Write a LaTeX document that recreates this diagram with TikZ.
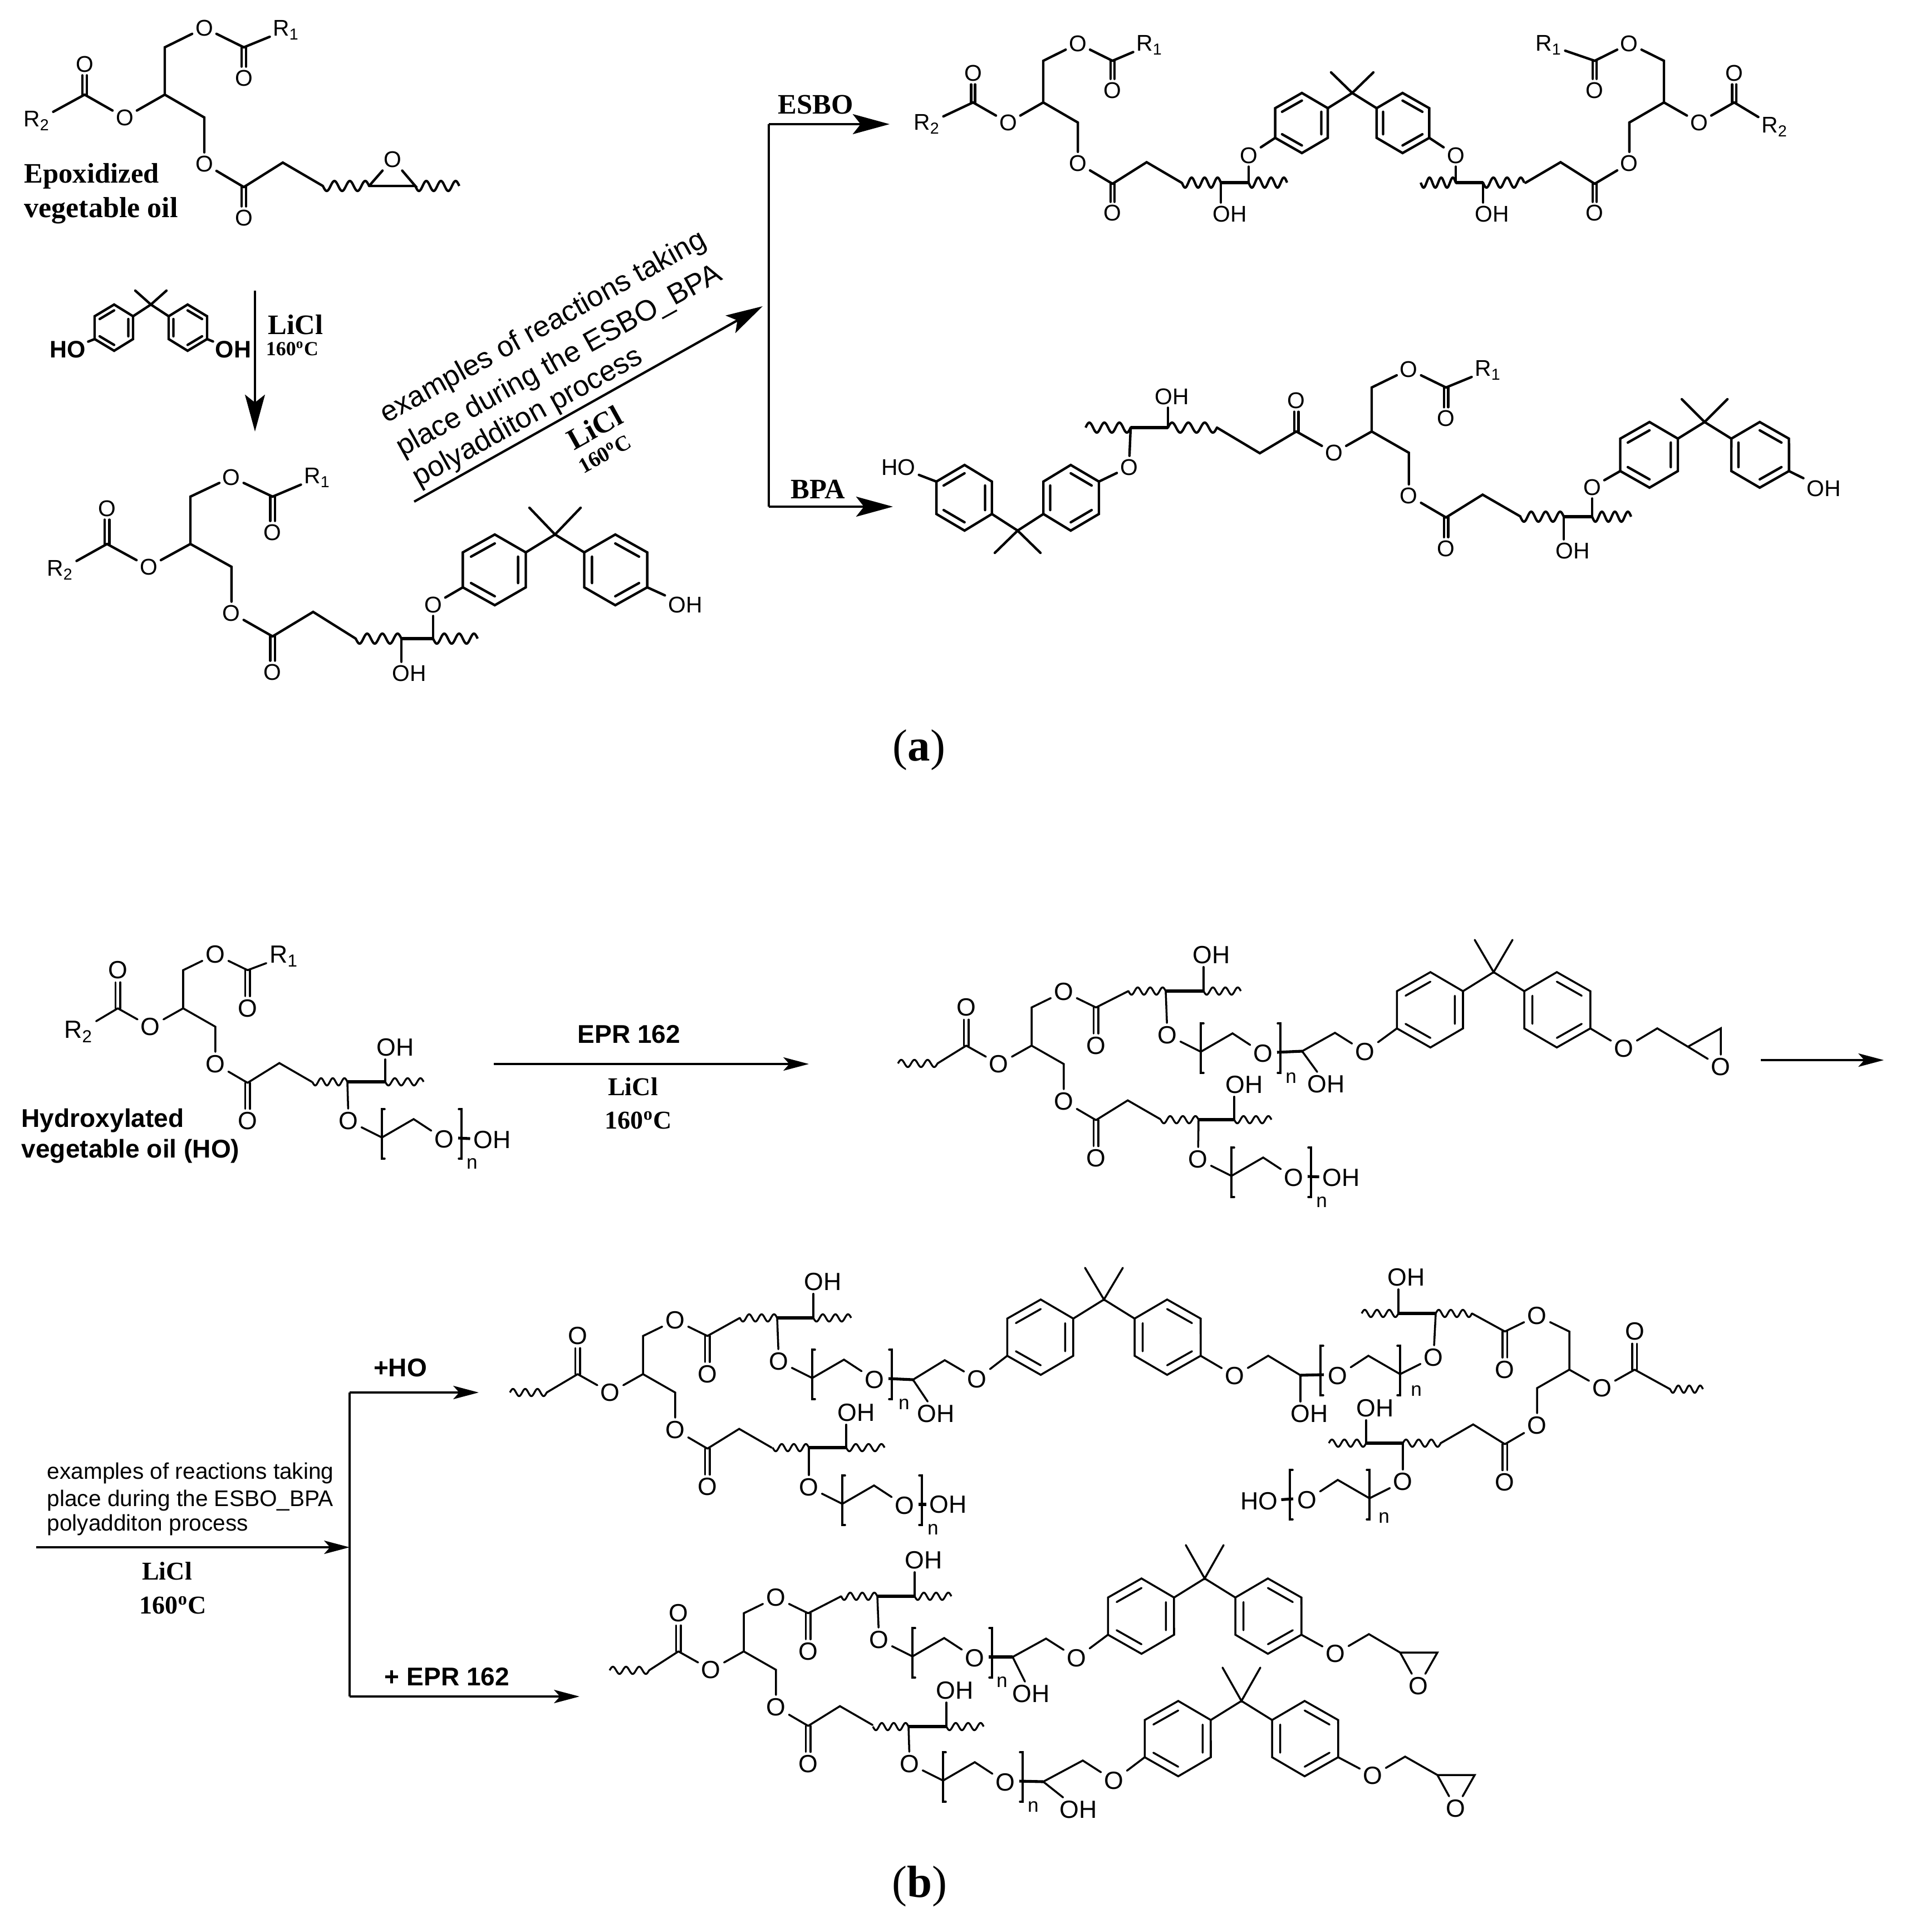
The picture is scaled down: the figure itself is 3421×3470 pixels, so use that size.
\documentclass[tikz,border=0pt]{standalone}
\usepackage{fontspec}
\setmainfont{Liberation Sans}
\newfontfamily\tnr{Liberation Serif}
\usetikzlibrary{arrows.meta,calc}
\newcommand\fsz[1]{\fontsize{#1}{#1}\selectfont}
\tikzset{
 atomA/.style={font=\fsz{11.6},inner sep=1.5pt},
 atomB/.style={font=\fsz{12.7},inner sep=1.5pt},
 atm/.style={atomA},
 bond/.style={line width=1.25pt,line cap=round,line join=miter},
 tbond/.style={line width=1.7pt},
 wbond/.style={line width=1.2pt},
 arrA/.style={line width=1.2pt,-{Stealth[length=18.8pt,width=10.2pt,inset=4pt]}},
 arrB/.style={line width=1.2pt,-{Stealth[length=13pt,width=6.8pt,inset=3pt]}},
 seriflab/.style={font=\tnr\bfseries\fsz{14.4},inner sep=0pt},
 degsmall/.style={font=\tnr\bfseries\fsz{10.2},inner sep=0pt},
 degbig/.style={font=\tnr\bfseries\fsz{13.1},inner sep=0pt},
 sanslab/.style={font=\bfseries\fsz{13.1},inner sep=0pt},
 planeB/.style={font=\fsz{11.55},inner sep=0pt,anchor=base west},
 planeA/.style={font=\fsz{14.8},inner sep=0pt,anchor=base west,rotate=29},
 subn/.style={font=\fsz{10},inner sep=0pt},
 panel/.style={font=\tnr\fsz{23},inner sep=0pt},
}
\newcommand\wamp{9}
\newcommand\dsep{1.15pt}
\newcommand\wv[3]{\draw[wbond] plot[domain=0:1,samples=61,smooth] ({#1+(#2-#1)*\x},{#3+\wamp*sin(1080*\x)});}
% glyceride core: name,x,y,xs,ys,carbonyl length
\newcommand\tghead[6]{%
 \begin{scope}[shift={(#2,#3)},xscale=#4,yscale=#5]
 \coordinate (#1CH) at (0,0);
 \coordinate (#1Ct) at (0,-85);
 \node[atm] (#1O1) at (71,-120) {O};
 \coordinate (#1C1) at (142,-85);
 \node[atm] (#1Eq1) at (142,{-85+#6}) {O};
 \node[atm] (#1O2) at (-72,41) {O};
 \coordinate (#1C2) at (-144,0);
 \node[atm] (#1Eq2) at (-144,{-#6}) {O};
 \coordinate (#1Cb) at (71,41);
 \node[atm] (#1O3) at (71,124) {O};
 \coordinate (#1C3) at (142,166);
 \node[atm] (#1Eq3) at (142,{166+#6}) {O};
 \coordinate (#1Cc) at (212,122);
 \coordinate (#1End) at (284,164);
 \draw[bond] (#1O1)--(#1Ct)--(#1CH)--(#1O2);
 \draw[bond] (#1O2)--(#1C2);
 \draw[bond] (#1O1)--(#1C1);
 \draw[bond] (#1CH)--(#1Cb)--(#1O3);
 \draw[bond] (#1O3)--(#1C3);
 \draw[bond] ([xshift=\dsep]#1C1)--([xshift=\dsep]#1Eq1.north);
 \draw[bond] ([xshift=-\dsep]#1C1)--([xshift=-\dsep]#1Eq1.north);
 \draw[bond] ([xshift=\dsep]#1C2)--([xshift=\dsep]#1Eq2.south);
 \draw[bond] ([xshift=-\dsep]#1C2)--([xshift=-\dsep]#1Eq2.south);
 \draw[bond] ([xshift=\dsep]#1C3)--([xshift=\dsep]#1Eq3.north);
 \draw[bond] ([xshift=-\dsep]#1C3)--([xshift=-\dsep]#1Eq3.north);
 \end{scope}}
\newcommand\tgtail[1]{\draw[bond] (#1C3)--(#1Cc)--(#1End);}
% wave - thick bond - wave: name,x1,x2,x3,x4,y
\newcommand\oilchain[6]{%
 \coordinate (#1s) at (#2,#6);
 \coordinate (#1a) at (#3,#6);
 \coordinate (#1b) at (#4,#6);
 \wv{#2}{#3}{#6}
 \draw[tbond] (#1a)--(#1b);
 \wv{#4}{#5}{#6}}
% bisphenol unit: name,cx,cy,xs,ys,mx,my
\newcommand\bpa[7]{%
 \coordinate (#1m1) at ({#2-#6},{#3-#7});
 \coordinate (#1m2) at ({#2+#6},{#3-#7});
 \begin{scope}[shift={(#2,#3)},xscale=#4,yscale=#5]
 \coordinate (#1c) at (0,0);
 \coordinate (#1LO) at (-101,62);
 \coordinate (#1RO) at (101,62);
 \coordinate (#1Li) at (-32,21);
 \coordinate (#1Ri) at (32,21);
 \draw[bond] (#1Li)--(-32,62)--(-66,83)--(#1LO)--(-101,21)--(-66,0)--cycle;
 \draw[bond] (#1Ri)--(32,62)--(66,83)--(#1RO)--(101,21)--(66,0)--cycle;
 \draw[bond] (-40.5,26)--(-40.5,57) (-66,72.5)--(-92,57) (-92,26)--(-66,10.5);
 \draw[bond] (40.5,26)--(40.5,57) (66,72.5)--(92,57) (92,26)--(66,10.5);
 \draw[bond] (#1Li)--(#1c)--(#1Ri);
 \end{scope}
 \draw[bond] (#1m1)--(#1c)--(#1m2);}
% repeat unit: name,x,y,xs,nx,ny
\newcommand\peg[6]{%
 \begin{scope}[shift={(#2,#3)},xscale=#4]
 \node[atm] (#1O) at (0,0) {O};
 \coordinate (#1a) at (60,30);
 \coordinate (#1b) at (117,-3);
 \node[atm] (#1Q) at (172,33) {O};
 \coordinate (#1T) at (197,31);
 \draw[bond] (#1O)--(#1a)--(#1b)--(#1Q);
 \draw[bond] (65,-21)--(60,-21)--(60,68)--(65,68);
 \draw[bond] (198,-21)--(203,-21)--(203,68)--(198,68);
 \end{scope}
 \node[subn] (#1n) at ({#2+#5},{#3+#6}) {n};}
\begin{document}
\begin{tikzpicture}[x=0.01cm,y=-0.01cm]
\useasboundingbox (0,0) rectangle (3421,3470);
%============ PANEL A ============
\begin{scope}
% epoxidized oil
\tghead{A}{296}{170}{1}{1}{55}
\node[atm] (AR1) at (514,54) {R\textsubscript{1}};
\node[atm] (AR2) at (66,217) {R\textsubscript{2}};
\draw[bond] (AC1)--(AR1);
\draw[bond] (AC2)--(AR2);
\tgtail{A}
\wv{580}{663}{334}
\coordinate (Ae1) at (663,334);
\coordinate (Ae2) at (746,334);
\node[atm] (AeO) at (705,286) {O};
\draw[bond] (Ae1)--(Ae2)--(AeO)--(Ae1);
\wv{746}{825}{334}
\node[seriflab,anchor=base west] (Al1) at (43,329) {Epoxidized};
\node[seriflab,font=\tnr\bfseries\fsz{14.8},anchor=base west] (Al2) at (43,390) {vegetable oil};
% BPA reagent
\bpa{P}{271}{547}{1}{1}{28}{25}
\node[font=\bfseries\fsz{12.2},inner sep=1pt] (PHO) at (122,628) {HO};
\node[font=\bfseries\fsz{12.2},inner sep=1pt] (POH) at (419,628) {OH};
\draw[bond] (PLO)--(PHO);
\draw[bond] (PRO)--(POH);
% vertical arrow
\coordinate (v1) at (458,522);
\coordinate (v2) at (458,775);
\draw[arrA] (v1)--(v2);
\node[seriflab] (vL) at (531,583) {LiCl};
\node[degsmall] (vT) at (525,626) {160\textsuperscript{o}C};
% product B
\tghead{B}{342}{977}{1.04}{1}{64}
\node[atm] (BR1) at (570,858) {R\textsubscript{1}};
\node[atm] (BR2) at (108,1024) {R\textsubscript{2}};
\draw[bond] (BC1)--(BR1);
\draw[bond] (BC2)--(BR2);
\coordinate (BEnd) at (639,1147);
\tgtail{B}
\oilchain{Bc}{639}{721}{778}{858}{1147}
\node[atm] (BOH) at (735,1209) {OH};
\draw[bond] (Bca)--(Bca |- BOH.north);
\node[atm] (BO) at (778,1086) {O};
\draw[bond] (Bcb)--(BO);
\bpa{Q}{997}{960}{1.64}{1.53}{46}{48}
\draw[bond] (QLO)--(BO);
\node[atm] (QOH) at (1231,1086) {OH};
\draw[bond] (QRO)--(QOH);
% diagonal arrow and labels
\coordinate (d1) at (744,901);
\coordinate (d2) at (1370,550);
\draw[arrA] (d1)--(d2);
\node[planeA] (dt1) at (694,761) {examples of reactions taking};
\node[planeA] (dt2) at (723,821) {place during the ESBO\_BPA};
\node[planeA] (dt3) at (752,875) {polyadditon process};
\node[font=\tnr\bfseries\fsz{15.2},inner sep=0pt,rotate=29] (dL) at (1068,768) {LiCl};
\node[font=\tnr\bfseries\fsz{11},inner sep=0pt,rotate=29] (dT) at (1086,815) {160\textsuperscript{o}C};
% branch
\coordinate (bt) at (1381,223);
\coordinate (bb) at (1381,910);
\coordinate (bte) at (1598,223);
\coordinate (bbe) at (1604,910);
\draw[bond,line cap=butt,line join=miter] (bt)--(bb);
\draw[arrA] (bt)--(bte);
\draw[arrA] (bb)--(bbe);
\node[seriflab] (bl1) at (1465,188) {ESBO};
\node[seriflab] (bl2) at (1469,879) {BPA};
% ESBO product
\tghead{C}{1874}{184}{.876}{.88}{60}
\node[atm] (CR1) at (2065,81) {R\textsubscript{1}};
\node[atm] (CR2) at (1665,223) {R\textsubscript{2}};
\draw[bond] (CC1)--(CR1);
\draw[bond] (CC2)--(CR2);
\tgtail{C}
\oilchain{Cc}{2123}{2193}{2243}{2312}{328}
\node[atm] (COH) at (2209,384) {OH};
\draw[bond] (Cca)--(Cca |- COH.north);
\node[atm] (CO) at (2243,279) {O};
\draw[bond] (Ccb)--(CO);
\bpa{S}{2429}{167}{1.37}{1.3}{38}{37}
\draw[bond] (SLO)--(CO);
\node[atm] (CpO) at (2615,279) {O};
\draw[bond] (SRO)--(CpO);
\oilchain{Cd}{2552}{2615}{2664}{2738}{328}
\draw[bond] (Cda)--(CpO);
\node[atm] (CpOH) at (2680,384) {OH};
\draw[bond] (Cdb)--(Cdb |- CpOH.north);
\tghead{Cr}{2989}{184}{-.876}{.88}{60}
\node[atm] (CrR1) at (2782,81) {R\textsubscript{1}};
\node[atm] (CrR2) at (3188,228) {R\textsubscript{2}};
\draw[bond] (CrC1)--(CrR1);
\draw[bond] (CrC2)--(CrR2);
\tgtail{Cr}
% BPA product
\tghead{D}{2464}{775}{.94}{.93}{60}
\node[atm] (DR1) at (2673,665) {R\textsubscript{1}};
\draw[bond] (DC1)--(DR1);
\coordinate (Dx1) at (2263,814);
\oilchain{Dl}{2186}{2098}{2031}{1950}{768}
\draw[bond] (DC2)--(Dx1)--(Dls);
\node[atm] (DOH) at (2105,712) {OH};
\draw[bond] (Dla)--(Dla |- DOH.south);
\node[atm] (DO) at (2028,839) {O};
\draw[bond] (Dlb)--(DO);
\bpa{T}{1828}{953}{1.445}{-1.42}{41}{-40}
\draw[bond] (TRO)--(DO);
\node[atm] (THO) at (1614,839) {HO};
\draw[bond] (TLO)--(THO);
\tgtail{D}
\oilchain{Dr}{2731}{2809}{2860}{2930}{928}
\node[atm] (DrOH) at (2825,989) {OH};
\draw[bond] (Dra)--(Dra |- DrOH.north);
\node[atm] (DrO) at (2860,875) {O};
\draw[bond] (Drb)--(DrO);
\bpa{U}{3062}{758}{1.5}{1.42}{41}{41}
\draw[bond] (ULO)--(DrO);
\node[atm] (UOH) at (3276,877) {OH};
\draw[bond] (URO)--(UOH);
\node[panel] (pa) at (1651,1347) {(\textbf{a})};
\end{scope}
%============ PANEL B ============
\begin{scope}[atm/.style={atomB},bond/.style={line width=1pt,line cap=round},tbond/.style={line width=1.45pt},wbond/.style={line width=.95pt}]
\renewcommand\wamp{6.5}
\renewcommand\dsep{1.5pt}
% HO
\tghead{E}{329}{1811}{.815}{.806}{85}
\node[atm] (ER1) at (510,1718) {R\textsubscript{1}};
\node[atm] (ER2) at (141,1853) {R\textsubscript{2}};
\draw[bond] (EC1)--(ER1);
\draw[bond] (EC2)--(ER2);
\tgtail{E}
\oilchain{Ec}{561}{624}{692}{761}{1943}
\node[atm] (EOH) at (710,1881) {OH};
\draw[bond] (Ecb)--(Ecb |- EOH.south);
\peg{Ep}{626}{2013}{1}{222}{77}
\draw[bond] (Eca)--(EpO);
\node[atm] (EpH) at (884,2047) {OH};
\draw[tbond] (EpT)--(EpH);
\node[sanslab,anchor=base west] (El1) at (38,2024) {Hydroxylated};
\node[sanslab,anchor=base west] (El2) at (38,2079) {vegetable oil (HO)};
% arrow 1
\coordinate (a1) at (887,1911);
\coordinate (a2) at (1453,1911);
\draw[arrB] (a1)--(a2);
\node[sanslab] (a1t) at (1130,1858) {EPR 162};
\node[degbig] (a1L) at (1137,1952) {LiCl};
\node[degbig] (a1T) at (1147,2012) {160\textsuperscript{o}C};
% F
\tghead{F}{1853}{1878}{.815}{.806}{85}
\coordinate (Fw) at (1684,1910);
\wv{1684}{1613}{1910}
\draw[bond] (FC2)--(Fw);
\oilchain{Fc}{2027}{2094}{2162}{2229}{1780}
\draw[bond] (FC1)--(Fcs);
\node[atm] (FOH) at (2176,1715) {OH};
\draw[bond] (Fcb)--(Fcb |- FOH.south);
\peg{Fp}{2097}{1859}{1}{222}{77}
\draw[bond] (Fca)--(FpO);
\coordinate (Fj) at (2339,1888);
\coordinate (Fk) at (2398,1855);
\node[atm] (Fl) at (2452,1889) {O};
\node[atm] (FjH) at (2382,1947) {OH};
\draw[tbond] (FpT)--(Fj);
\draw[bond] (Fj)--(Fk)--(Fl);
\draw[bond] (Fj)--(FjH);
\bpa{V}{2683}{1746}{1.72}{1.63}{34}{58}
\draw[bond] (Fl)--(VLO);
\node[atm] (Vo) at (2917,1883) {O};
\coordinate (Vc1) at (2977,1847);
\coordinate (Vc2) at (3032,1880);
\coordinate (Vc3) at (3091,1847);
\node[atm] (Ve) at (3091,1916) {O};
\draw[bond] (VRO)--(Vo);
\draw[bond] (Vo)--(Vc1)--(Vc2)--(Vc3)--(Ve)--(Vc2);
\tgtail{F}
\oilchain{Fd}{2085}{2153}{2217}{2284}{2011}
\node[atm] (FdH) at (2235,1948) {OH};
\draw[bond] (Fdb)--(Fdb |- FdH.south);
\peg{Fq}{2152}{2082}{1}{222}{77}
\draw[bond] (Fda)--(FqO);
\node[atm] (FqH) at (2409,2115) {OH};
\draw[tbond] (FqT)--(FqH);
\coordinate (a3) at (3163,1904);
\coordinate (a4) at (3384,1904);
\draw[arrB] (a3)--(a4);
% G/H
\tghead{G}{1155}{2468}{.815}{.806}{85}
\coordinate (Gw) at (982,2501);
\wv{982}{916}{2501}
\draw[bond] (GC2)--(Gw);
\oilchain{Gc}{1329}{1396}{1461}{1529}{2367}
\draw[bond] (GC1)--(Gcs);
\node[atm] (GOH) at (1478,2302) {OH};
\draw[bond] (Gcb)--(Gcb |- GOH.south);
\peg{Gp}{1399}{2445}{1}{225}{77}
\draw[bond] (Gca)--(GpO);
\coordinate (Gj) at (1640,2478);
\coordinate (Gk) at (1697,2443);
\node[atm] (Gl) at (1755,2477) {O};
\node[atm] (GjH) at (1681,2539) {OH};
\draw[tbond] (GpT)--(Gj);
\draw[bond] (Gj)--(Gk)--(Gl);
\draw[bond] (Gj)--(GjH);
\bpa{W}{1983}{2334}{1.72}{1.63}{34}{57}
\draw[bond] (Gl)--(WLO);
\node[atm] (Hl) at (2218,2471) {O};
\coordinate (Hk) at (2278,2435);
\coordinate (Hj) at (2336,2470);
\node[atm] (HjH) at (2352,2539) {OH};
\draw[bond] (WRO)--(Hl);
\draw[bond] (Hl)--(Hk)--(Hj);
\draw[bond] (Hj)--(Hj |- HjH.north);
\peg{Hp}{2575}{2438}{-1}{-31}{60}
\draw[tbond] (Hj)--(HpT);
\tghead{H}{2819}{2460}{-.815}{.806}{85}
\oilchain{Hc}{2644}{2579}{2512}{2446}{2359}
\draw[bond] (HC1)--(Hcs);
\draw[bond] (Hca)--(HpO);
\node[atm] (HOH) at (2526,2294) {OH};
\draw[bond] (Hcb)--(Hcb |- HOH.south);
\coordinate (Hw) at (3000,2495);
\draw[bond] (HC2)--(Hw);
\wv{3000}{3059}{2495}
\tgtail{H}
\oilchain{Hd}{2588}{2520}{2454}{2387}{2592}
\node[atm] (HdH) at (2470,2529) {OH};
\draw[bond] (Hdb)--(Hdb |- HdH.south);
\peg{Hq}{2520}{2661}{-1}{-34}{65}
\draw[bond] (Hda)--(HqO);
\node[atm] (HqH) at (2262,2696) {HO};
\draw[tbond] (HqT)--(HqH);
\tgtail{G}
\oilchain{Gd}{1388}{1453}{1520}{1589}{2600}
\node[atm] (GdH) at (1538,2537) {OH};
\draw[bond] (Gdb)--(Gdb |- GdH.south);
\peg{Gq}{1453}{2671}{1}{223}{76}
\draw[bond] (Gda)--(GqO);
\node[atm] (GqH) at (1703,2702) {OH};
\draw[tbond] (GqT)--(GqH);
% branch b
\coordinate (c1) at (65,2779);
\coordinate (c2) at (628,2779);
\coordinate (c3) at (628,2501);
\coordinate (c4) at (628,3047);
\coordinate (c5) at (860,2501);
\coordinate (c6) at (1041,3047);
\draw[bond,line cap=butt] (c3)--(c4);
\draw[arrB] (c1)--(c2);
\draw[arrB] (c3)--(c5);
\draw[arrB] (c4)--(c6);
\node[sanslab] (cl1) at (719,2457) {+HO};
\node[sanslab] (cl2) at (803,3012) {+ EPR 162};
\node[planeB] (ct1) at (84,2656) {examples of reactions taking};
\node[planeB] (ct2) at (84,2705) {place during the ESBO\_BPA};
\node[planeB] (ct3) at (84,2749) {polyadditon process};
\node[degbig] (ct4) at (300,2822) {LiCl};
\node[degbig] (ct5) at (311,2883) {160\textsuperscript{o}C};
% J
\tghead{J}{1336}{2966}{.815}{.806}{85}
\coordinate (Jw) at (1166,3000);
\wv{1166}{1095}{3000}
\draw[bond] (JC2)--(Jw);
\oilchain{Jc}{1511}{1576}{1643}{1709}{2867}
\draw[bond] (JC1)--(Jcs);
\node[atm] (JOH) at (1659,2802) {OH};
\draw[bond] (Jcb)--(Jcb |- JOH.south);
\peg{Jp}{1579}{2945}{1}{221}{76}
\draw[bond] (Jca)--(JpO);
\coordinate (Jj) at (1819,2976);
\coordinate (Jk) at (1879,2943);
\node[atm] (Jl) at (1934,2978) {O};
\node[atm] (JjH) at (1852,3042) {OH};
\draw[tbond] (JpT)--(Jj);
\draw[bond] (Jj)--(Jk)--(Jl);
\draw[bond] (Jj)--(JjH);
\bpa{X}{2164}{2835}{1.72}{1.63}{34}{60}
\draw[bond] (Jl)--(XLO);
\node[atm] (Xo) at (2399,2970) {O};
\coordinate (Xc1) at (2459,2935);
\coordinate (Xc2) at (2515,2968);
\coordinate (Xc3) at (2582,2968);
\node[atm] (Xe) at (2548,3028) {O};
\draw[bond] (XRO)--(Xo);
\draw[bond] (Xo)--(Xc1)--(Xc2)--(Xc3)--(Xe)--(Xc2);
\tgtail{J}
\oilchain{Jd}{1568}{1632}{1700}{1767}{3101}
\node[atm] (JdH) at (1715,3036) {OH};
\draw[bond] (Jdb)--(Jdb |- JdH.south);
\peg{Jq}{1634}{3168}{1}{222}{77}
\draw[bond] (Jda)--(JqO);
\coordinate (Ym) at (1874,3200);
\coordinate (Yk) at (1945,3162);
\node[atm] (Yl) at (2001,3198) {O};
\node[atm] (YmH) at (1937,3250) {OH};
\draw[tbond] (JqT)--(Ym);
\draw[bond] (Ym)--(Yk)--(Yl);
\draw[bond] (Ym)--(YmH);
\bpa{Y}{2230}{3055}{1.72}{1.63}{34}{60}
\draw[bond] (Yl)--(YLO);
\node[atm] (Yo) at (2466,3189) {O};
\coordinate (Yc1) at (2524,3155);
\coordinate (Yc2) at (2582,3188);
\coordinate (Yc3) at (2649,3188);
\node[atm] (Ye) at (2615,3248) {O};
\draw[bond] (YRO)--(Yo);
\draw[bond] (Yo)--(Yc1)--(Yc2)--(Yc3)--(Ye)--(Yc2);
\node[panel] (pb) at (1652,3388) {(\textbf{b})};
\end{scope}
\end{tikzpicture}
\end{document}
